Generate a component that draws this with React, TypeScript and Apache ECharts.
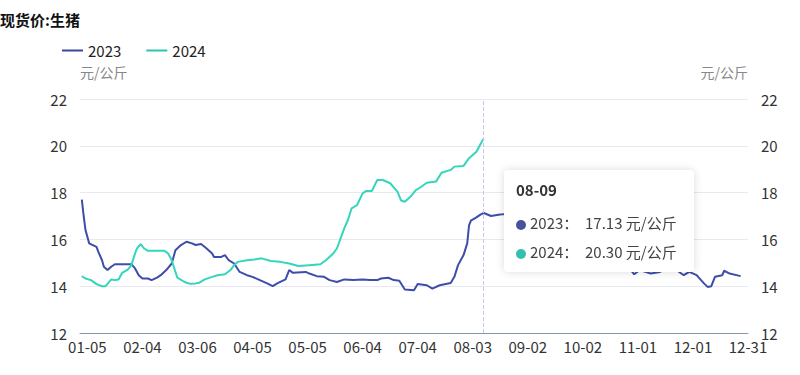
import React, { useEffect, useRef } from "react";
import * as echarts from "echarts";

const titleText = "现货价:生猪";
const unitText = "元/公斤";
const seriesNames = ["2023", "2024"];
const yTicks = { min: 12, max: 22, interval: 2 };

const dates2023 = [
  "01-02","01-03","01-04","01-06","01-10","01-11","01-13","01-14","01-16","01-18","01-20","01-29","01-31",
  "02-02","02-04","02-07","02-09","02-12","02-14","02-17","02-20","02-22","02-25","02-28",
  "03-03","03-05","03-08","03-11","03-14","03-15","03-19","03-21","03-23","03-26","03-29",
  "04-02","04-05","04-09","04-13","04-16","04-19","04-23","04-25","04-27",
  "05-04","05-06","05-10","05-14","05-17","05-21","05-25","05-30",
  "06-04","06-08","06-12","06-14","06-18","06-21","06-24","06-27",
  "07-02","07-04","07-09","07-12","07-16","07-22","07-24","07-26","07-29","07-31",
  "08-01","08-02","08-05","08-07","08-09","08-13","08-17","08-20","08-25",
  "09-03","09-11","09-20","09-25",
  "10-04","10-11","10-17","10-24","10-30",
  "11-02","11-08","11-13","11-18","11-22","11-26","11-29",
  "12-03","12-07","12-09","12-11","12-13","12-17","12-18","12-21","12-27"
];
const values2023 = [
  17.7,17.0,16.4,15.83,15.68,15.47,15.11,14.83,14.69,14.83,14.94,14.94,14.76,
  14.47,14.33,14.33,14.26,14.37,14.47,14.69,14.97,15.54,15.76,15.9,
  15.83,15.76,15.8,15.61,15.4,15.25,15.25,15.33,15.11,14.97,14.61,
  14.47,14.4,14.26,14.12,14.0,14.14,14.29,14.69,14.57,
  14.61,14.54,14.43,14.4,14.26,14.18,14.29,14.26,
  14.29,14.26,14.26,14.33,14.36,14.26,14.23,13.86,
  13.83,14.09,14.04,13.9,14.04,14.14,14.4,14.9,15.33,15.83,
  16.6,16.8,16.94,17.05,17.13,17.0,17.05,17.08,17.1,
  17.0,16.9,16.6,16.4,
  16.0,15.8,15.5,15.1,14.51,
  14.69,14.54,14.61,14.76,14.69,14.47,14.61,
  14.47,14.12,13.97,14.0,14.4,14.47,14.66,14.54,14.43
];

const dates2024 = [
  "01-02","01-04","01-07","01-10","01-13","01-15","01-18","01-20","01-22","01-24","01-27","01-29","01-31",
  "02-01","02-03","02-05","02-07","02-16","02-18","02-20","02-22","02-23","02-27",
  "03-02","03-05","03-07","03-10","03-14","03-17","03-21","03-24","03-26","03-28",
  "04-02","04-06","04-10","04-15","04-20","04-25","04-30",
  "05-06","05-12","05-15","05-19","05-21","05-23","05-25","05-27","05-29",
  "06-01","06-04","06-06","06-09","06-12","06-15","06-19","06-23","06-25","06-27","06-30",
  "07-03","07-06","07-09","07-14","07-17","07-22","07-24","07-29",
  "08-01","08-05","08-08","08-09"
];
const values2024 = [
  14.43,14.33,14.26,14.09,14.0,14.0,14.29,14.26,14.29,14.57,14.71,14.9,15.4,
  15.61,15.8,15.61,15.51,15.51,15.4,15.11,14.61,14.37,14.18,
  14.1,14.12,14.15,14.29,14.4,14.47,14.51,14.69,14.9,15.04,
  15.11,15.14,15.19,15.08,15.04,14.97,14.86,
  14.9,14.94,15.11,15.4,15.61,16.04,16.47,16.83,17.33,
  17.47,17.97,18.07,18.07,18.54,18.54,18.4,18.04,17.66,17.61,17.82,
  18.11,18.25,18.42,18.47,18.85,18.97,19.11,19.14,
  19.47,19.75,20.18,20.3
];

const colors = ["#37479a", "#2fc3aa"];
const markerColors = ["#47529c", "#35bfae"];

function buildCategories(): string[] {
  const monthDays = [31, 28, 31, 30, 31, 30, 31, 31, 30, 31, 30, 31];
  const out: string[] = [];
  monthDays.forEach((n, m) => {
    for (let d = 1; d <= n; d++) {
      out.push(String(m + 1).padStart(2, "0") + "-" + String(d).padStart(2, "0"));
    }
  });
  return out;
}

const FONT = "'Noto Sans CJK SC', 'Noto Sans', sans-serif";

export default function App() {
  const ref = useRef<HTMLDivElement>(null);
  useEffect(() => {
    if (!ref.current) return;
    const chart = echarts.init(ref.current, undefined, { renderer: "svg" });
    const categories = buildCategories();
    const s2023 = dates2023.map((d, i) => [d, values2023[i]]);
    const s2024 = dates2024.map((d, i) => [d, values2024[i]]);
    const yAxisBase = {
      type: "value",
      min: yTicks.min,
      max: yTicks.max,
      interval: yTicks.interval,
      name: unitText,
      nameLocation: "end",
      nameGap: 20,
      axisLine: { show: false },
      axisTick: { show: false },
      axisLabel: { color: "#333", fontSize: 15, margin: 13, fontFamily: FONT },
    };
    chart.setOption({
      animation: false,
      textStyle: { fontFamily: FONT },
      title: {
        text: titleText,
        left: -5,
        top: 7,
        textStyle: { fontSize: 15, fontWeight: "bold", color: "#111", fontFamily: FONT },
      },
      legend: {
        left: 57,
        top: 38,
        icon: "rect",
        itemWidth: 21,
        itemHeight: 2,
        itemGap: 25,
        textStyle: { fontSize: 15, color: "#222", fontFamily: FONT, padding: [0, 0, 0, 0] },
        data: seriesNames,
      },
      grid: { left: 80, right: 52, top: 99, bottom: 42, containLabel: false },
      tooltip: {
        trigger: "axis",
        alwaysShowContent: true,
        transitionDuration: 0,
        backgroundColor: "#fff",
        borderWidth: 0,
        padding: [10, 12, 6, 12],
        extraCssText: "box-shadow:0 0 8px rgba(0,0,0,0.14);border-radius:4px;width:190px;box-sizing:border-box;",
        position: () => [504, 170],
        axisPointer: {
          type: "line",
          lineStyle: { color: "#c3c9f2", type: "dashed", width: 1 },
        },
        formatter: (params: any) => {
          const list = Array.isArray(params) ? params : [params];
          const head = list.length ? list[0].axisValue : "";
          let html = `<div style="font-family:${FONT};font-weight:bold;font-size:15px;color:#333;line-height:20px;margin-bottom:8px;">${head}</div>`;
          list.forEach((p: any) => {
            const v = Array.isArray(p.value) ? p.value[1] : p.value;
            html += `<div style="font-family:${FONT};font-size:15px;color:#444;line-height:29px;white-space:nowrap;"><span style="display:inline-block;width:10px;height:10px;border-radius:50%;background:${markerColors[p.seriesIndex]};margin-right:4px;vertical-align:-1px;"></span>${p.seriesName}：&nbsp;&nbsp;${Number(v).toFixed(2)} ${unitText}</div>`;
          });
          return html;
        },
      },
      xAxis: {
        type: "category",
        data: categories,
        boundaryGap: false,
        axisLine: { lineStyle: { color: "#8896b3", width: 1 } },
        axisTick: { show: false },
        axisLabel: {
          color: "#333",
          fontSize: 15,
          margin: 6,
          fontFamily: FONT,
          interval: (idx: number) => idx >= 4 && (idx - 4) % 30 === 0,
        },
        splitLine: { show: false },
      },
      yAxis: [
        {
          ...yAxisBase,
          position: "left",
          nameTextStyle: { color: "#888", fontSize: 14, align: "left", fontFamily: FONT },
          splitLine: { lineStyle: { color: "#e6e8f2", width: 1 } },
        },
        {
          ...yAxisBase,
          position: "right",
          nameTextStyle: { color: "#888", fontSize: 14, align: "right", fontFamily: FONT },
          splitLine: { show: false },
        },
      ],
      series: [
        {
          name: seriesNames[0],
          type: "line",
          data: s2023,
          showSymbol: false,
          symbol: "none",
          connectNulls: true,
          lineStyle: { color: colors[0], width: 2 },
          itemStyle: { color: colors[0] },
        },
        {
          name: seriesNames[1],
          type: "line",
          data: s2024,
          showSymbol: false,
          symbol: "none",
          connectNulls: true,
          lineStyle: { color: colors[1], width: 2 },
          itemStyle: { color: colors[1] },
        },
      ],
    });
    chart.dispatchAction({ type: "showTip", seriesIndex: 1, dataIndex: values2024.length - 1 });
    return () => chart.dispose();
  }, []);
  return (
    <div
      ref={ref}
      style={{ position: "absolute", left: 0, top: 0, width: 800, height: 375 }}
    />
  );
}
